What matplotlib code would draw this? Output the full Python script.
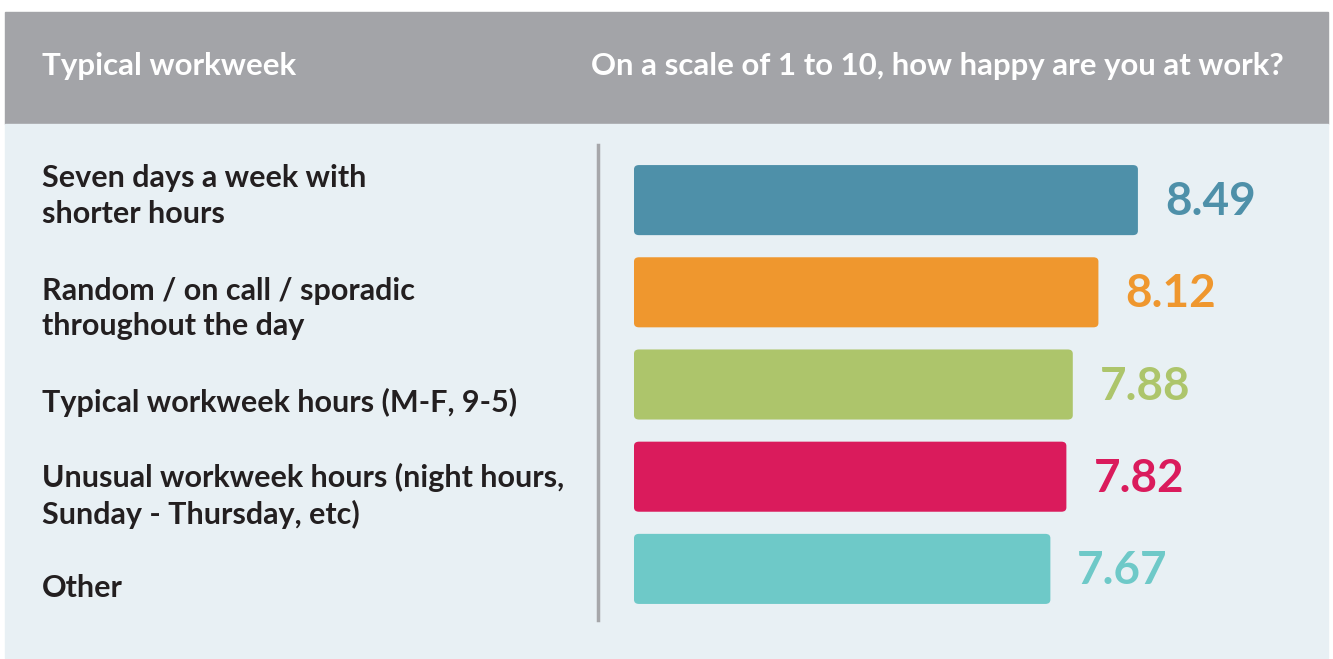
import matplotlib
matplotlib.use("Agg")
import matplotlib.pyplot as plt
from matplotlib.patches import Rectangle, FancyBboxPatch

# chart data
categories = [
    "Seven days a week with\nshorter hours",
    "Random / on call / sporadic\nthroughout the day",
    "Typical workweek hours (M-F, 9-5)",
    "Unusual workweek hours (night hours,\nSunday - Thursday, etc)",
    "Other",
]
scores = [8.49, 8.12, 7.88, 7.82, 7.67]
colors = ["#4e90a9", "#ef972e", "#adc56b", "#da1b5c", "#6ec9c8"]
left_header = "Typical workweek"
right_header = "On a scale of 1 to 10, how happy are you at work?"

# vertical nudge (pixels) of each category label relative to its bar
label_nudge = [4, -16, -18, -19, -19]

W, H = 1333, 659
plt.rcParams["font.family"] = ["Lato", "DejaVu Sans"]

fig = plt.figure(figsize=(W / 100, H / 100), dpi=100)
fig.patch.set_facecolor("white")

def fx(px):
    return px / W

def fy(py):
    return 1 - py / H

# header band and panel
fig.patches.append(Rectangle((fx(5), fy(124)), fx(1323), 112 / H,
                             transform=fig.transFigure, color="#a3a4a8", zorder=-10))
fig.patches.append(Rectangle((fx(5), fy(658)), fx(1323), 534 / H,
                             transform=fig.transFigure, color="#e8f0f4", zorder=-10))
fig.text(fx(42), fy(66), left_header, color="white", fontsize=22.5,
         fontweight="bold", va="center", ha="left")
fig.text(fx(1284), fy(66), right_header, color="white", fontsize=22.4,
         fontweight="bold", va="center", ha="right")

# divider
fig.add_artist(plt.Line2D([fx(598), fx(598)], [fy(145), fy(620)],
                          transform=fig.transFigure, color="#a6a7aa", lw=2.5))

# bar axes (bars are drawn from a cut-off baseline, not from zero)
x0 = 3.77
ax = fig.add_axes([fx(634), fy(615), fx(600), 461 / H])
ax.set_xlim(x0, x0 + 5.62)
ax.set_ylim(len(scores) - 0.5, -0.5)
ax.axis("off")

ypos = list(range(len(scores)))
bars = ax.barh(ypos, [s - x0 for s in scores], left=x0, height=0.76, color=colors)
for b, c in zip(bars, colors):
    x, y = b.get_x(), b.get_y()
    w, h = b.get_width(), b.get_height()
    b.set_visible(False)
    ax.add_patch(FancyBboxPatch((x, y), w, h,
                                boxstyle="round,pad=0,rounding_size=0.047",
                                mutation_aspect=0.98, color=c, lw=0))

for yi, s, c in zip(ypos, scores, colors):
    ax.annotate(f"{s:.2f}", (s, yi), xytext=(27, -2), textcoords="offset pixels",
                color=c, fontsize=33, fontweight="bold", va="center", ha="left")

for yi, lab, dy in zip(ypos, categories, label_nudge):
    ax.annotate(lab, (fx(42), yi), xycoords=("figure fraction", "data"),
                xytext=(0, dy), textcoords="offset pixels",
                color="#231f20", fontsize=22, fontweight="bold",
                va="center", ha="left", linespacing=1.33,
                annotation_clip=False)

fig.savefig("out.png", dpi=100)
